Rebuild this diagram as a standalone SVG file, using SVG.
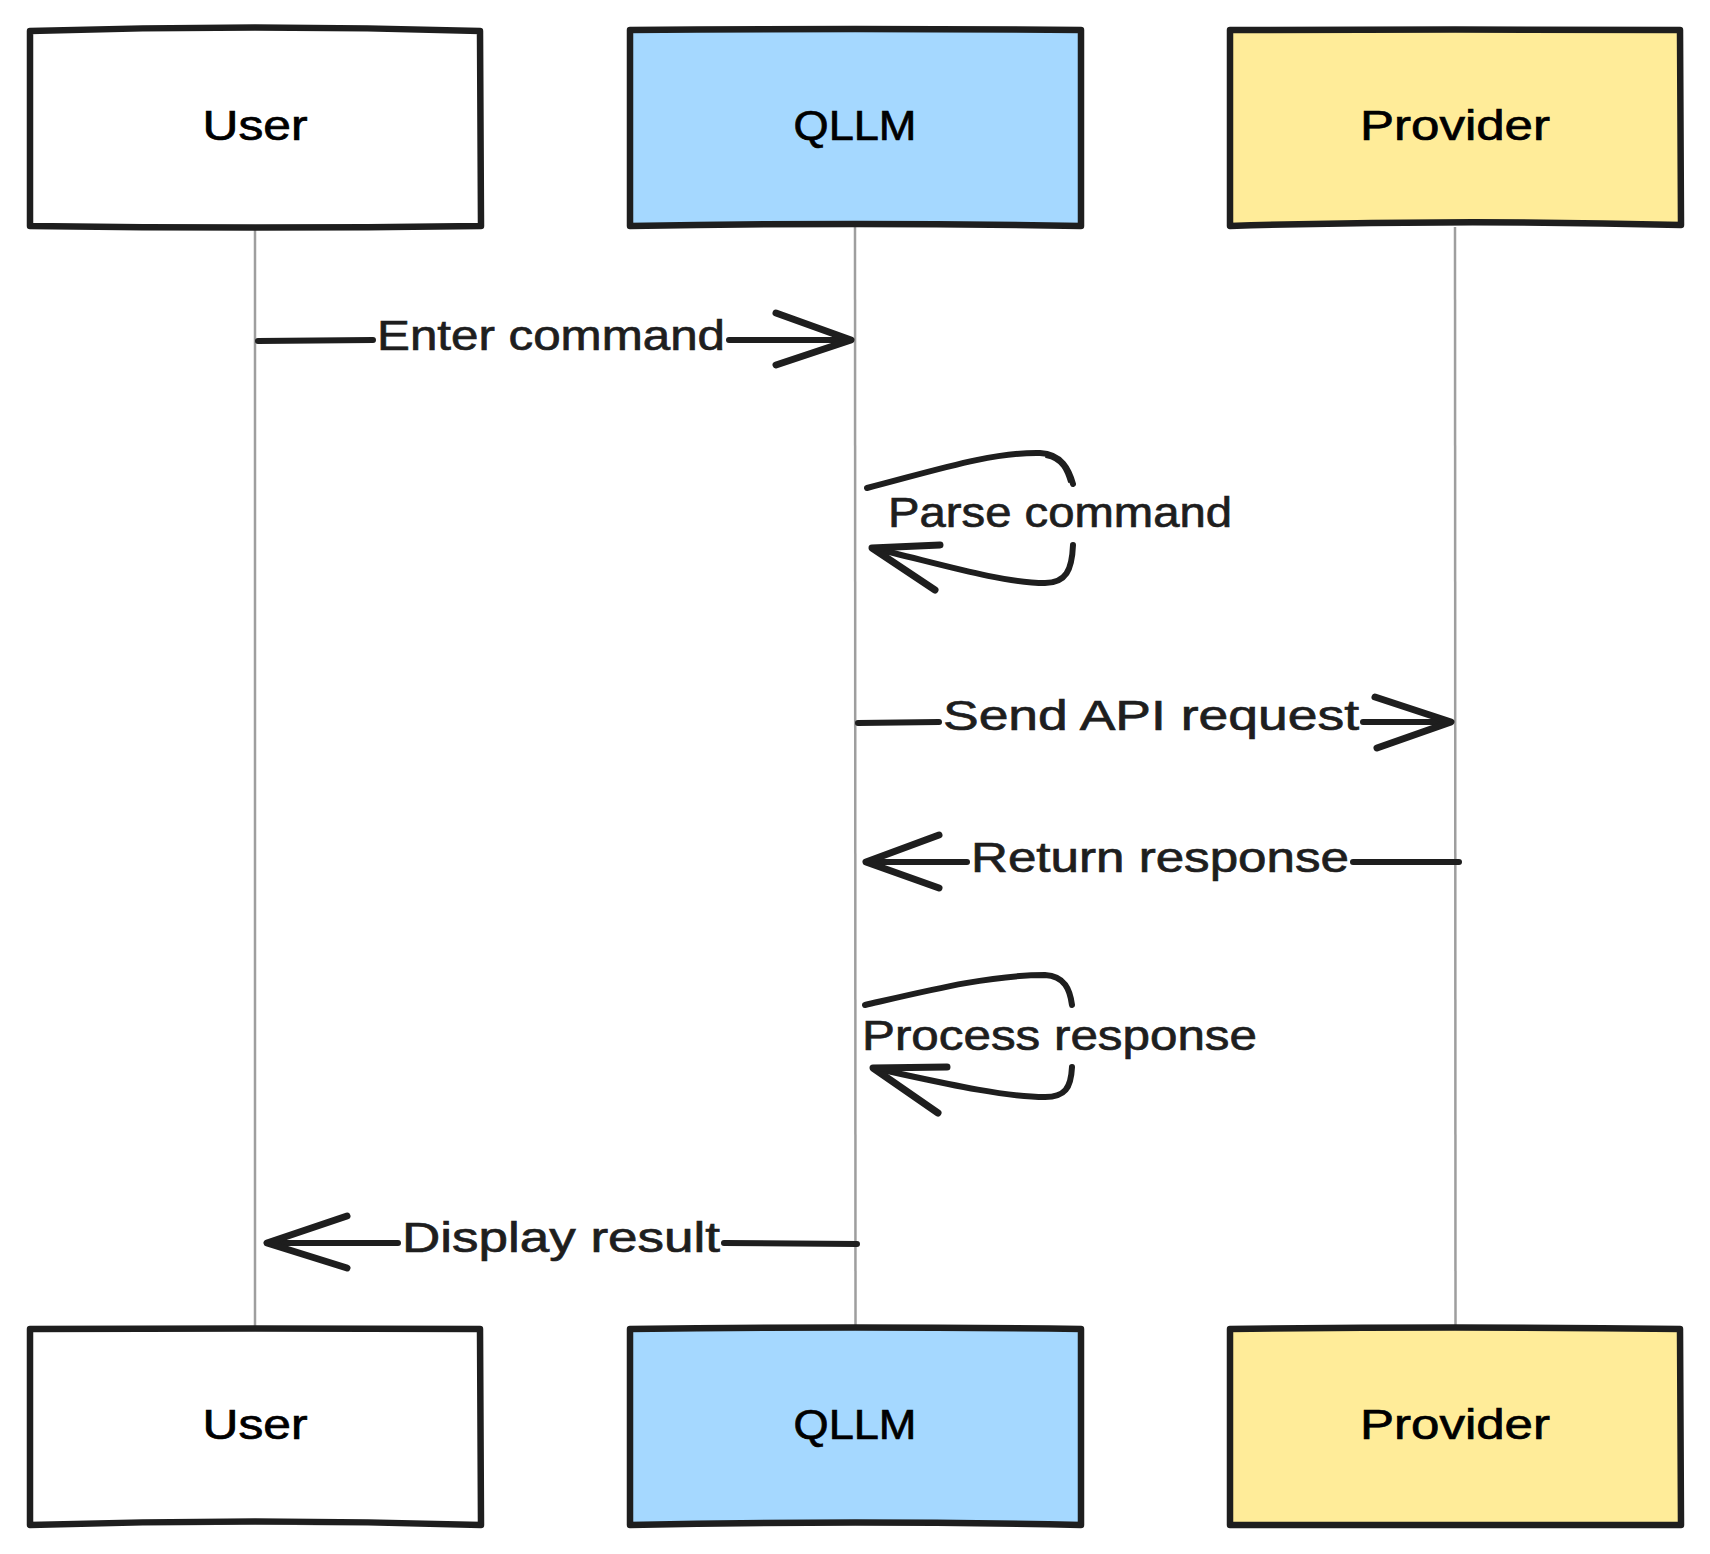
<svg xmlns="http://www.w3.org/2000/svg" width="1710" height="1554" viewBox="0 0 1710 1554">
<style>
.box{stroke:#1e1e1e;stroke-width:6.5;stroke-linejoin:round;stroke-linecap:round}
.white{fill:#ffffff}
.blue{fill:#a5d8ff}
.yellow{fill:#ffec99}
.lbl{font-family:"Liberation Sans","DejaVu Sans",sans-serif;font-size:42px;fill:#000000;stroke:#000000;stroke-width:0.7;text-anchor:middle}
.msg{font-family:"Liberation Sans","DejaVu Sans",sans-serif;font-size:42px;fill:#1e1e1e;stroke:#1e1e1e;stroke-width:0.7}
.life{stroke:#9e9e9e;stroke-width:2.5;fill:none}
.ln{stroke:#1e1e1e;stroke-width:6;fill:none;stroke-linecap:round;stroke-linejoin:round}
.hd{stroke:#1e1e1e;stroke-width:7;fill:none;stroke-linecap:round;stroke-linejoin:round}
.thin{stroke:#1e1e1e;stroke-width:2;fill:none;stroke-linecap:round}
</style>
<rect width="1710" height="1554" fill="#ffffff"/>
<g id="lifelines">
<line class="life" x1="255" y1="227" x2="255" y2="1328"/>
<line class="life" x1="855" y1="227" x2="855.5" y2="1328"/>
<line class="life" x1="1455" y1="227" x2="1455.5" y2="1328"/>
</g>
<g id="node-user-top">
<path class="box white" d="M30,31 Q255,24 480,31 L481,226 Q255,229 30,226 Z"/>
<path class="thin" d="M140,30 Q255,27 340,29"/>
<text class="lbl" x="255" y="140" textLength="105" lengthAdjust="spacingAndGlyphs">User</text>
</g>
<g id="node-qllm-top">
<path class="box blue" d="M630,30 Q855,28 1081,30 L1081,226 Q855,222 630,226 Z"/>
<text class="lbl" x="855" y="140" textLength="123" lengthAdjust="spacingAndGlyphs">QLLM</text>
</g>
<g id="node-provider-top">
<path class="box yellow" d="M1230,30 Q1455,29 1680,30 L1681,225 Q1455,219 1230,226 Z"/>
<text class="lbl" x="1455" y="140" textLength="190" lengthAdjust="spacingAndGlyphs">Provider</text>
</g>
<g id="node-user-bottom">
<path class="box white" d="M30,1329 Q255,1328 480,1329 L481,1525 Q255,1518 30,1525 Z"/>
<path class="thin" d="M150,1523 Q200,1524 240,1523"/>
<text class="lbl" x="255" y="1439" textLength="105" lengthAdjust="spacingAndGlyphs">User</text>
</g>
<g id="node-qllm-bottom">
<path class="box blue" d="M630,1329 Q855,1326 1081,1329 L1081,1525 Q855,1520 630,1525 Z"/>
<text class="lbl" x="855" y="1439" textLength="123" lengthAdjust="spacingAndGlyphs">QLLM</text>
</g>
<g id="node-provider-bottom">
<path class="box yellow" d="M1230,1329 Q1455,1326 1680,1329 L1681,1525 Q1455,1525 1230,1525 Z"/>
<text class="lbl" x="1455" y="1439" textLength="190" lengthAdjust="spacingAndGlyphs">Provider</text>
</g>
<g id="connectors">
<g id="msg-enter-command">
<path class="ln" d="M258,341 L373,340"/>
<path class="ln" d="M729,340 L850,340"/>
<path class="hd" d="M776,313 L851,340 L776,365"/>
<text class="msg" x="377" y="350" textLength="348" lengthAdjust="spacingAndGlyphs">Enter command</text>
</g>
<g id="msg-parse-command">
<path class="ln" d="M867,488 C930,472 990,452 1040,453 C1062,454 1069,470 1073,484"/>
<path class="thin" d="M1046,457 C1062,460 1066,472 1069,482"/>
<path class="ln" d="M1073,545 C1072,570 1066,583 1045,583 C1000,583 930,561 872,548"/>
<path class="hd" d="M940,545 L872,548 L935,590"/>
<text class="msg" x="888" y="527" textLength="344" lengthAdjust="spacingAndGlyphs">Parse command</text>
</g>
<g id="msg-send-api-request">
<path class="ln" d="M858,723 L939,722"/>
<path class="ln" d="M1363,722 L1450,722"/>
<path class="hd" d="M1375,697 L1451,722 L1377,748"/>
<text class="msg" x="943" y="730" textLength="416" lengthAdjust="spacingAndGlyphs">Send API request</text>
</g>
<g id="msg-return-response">
<path class="ln" d="M866,862 L967,862"/>
<path class="ln" d="M1353,862 L1459,862"/>
<path class="hd" d="M939,835 L866,862 L939,888"/>
<text class="msg" x="971" y="872" textLength="378" lengthAdjust="spacingAndGlyphs">Return response</text>
</g>
<g id="msg-process-response">
<path class="ln" d="M865,1005 C930,990 990,975 1045,975 C1065,976 1070,990 1072,1005"/>
<path class="ln" d="M1072,1067 C1071,1088 1065,1097 1045,1097 C1000,1097 930,1080 873,1068"/>
<path class="hd" d="M947,1067 L873,1068 L938,1113"/>
<text class="msg" x="862" y="1050" textLength="395" lengthAdjust="spacingAndGlyphs">Process response</text>
</g>
<g id="msg-display-result">
<path class="ln" d="M267,1243 L398,1243"/>
<path class="ln" d="M724,1243 L857,1244"/>
<path class="hd" d="M347,1216 L267,1243 L347,1268"/>
<text class="msg" x="402" y="1252" textLength="318" lengthAdjust="spacingAndGlyphs">Display result</text>
</g>
</g>
</svg>
